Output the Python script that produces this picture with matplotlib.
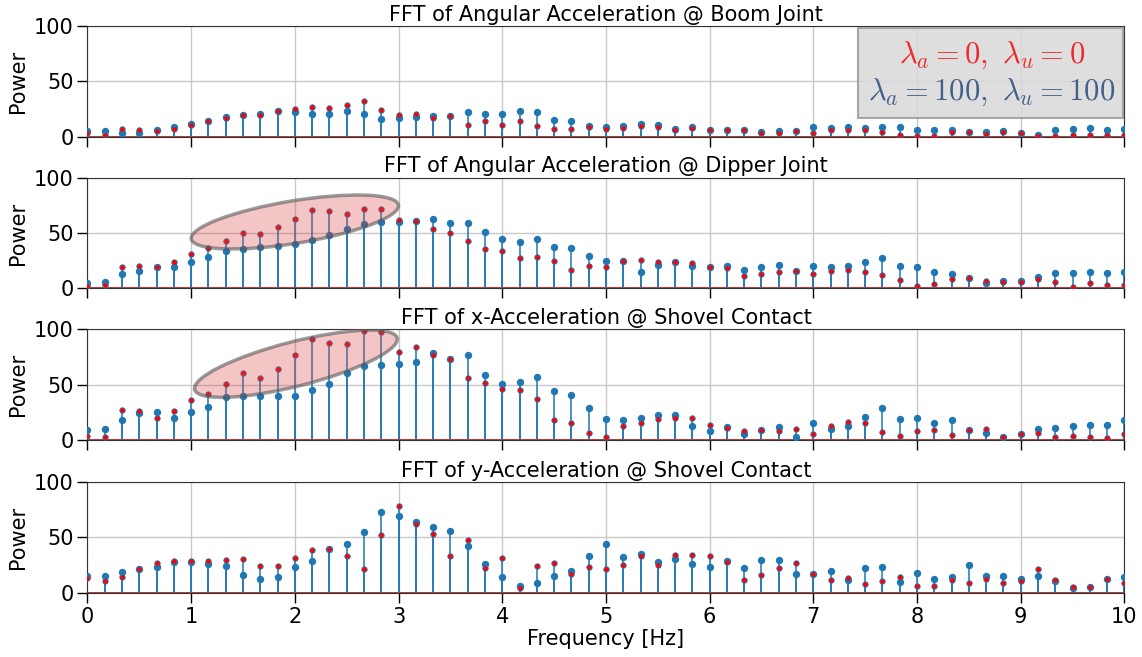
import numpy as np
import matplotlib
matplotlib.use("Agg")
import matplotlib.pyplot as plt
from matplotlib.patches import Ellipse, Rectangle
from matplotlib.transforms import ScaledTranslation

plt.rcParams['mathtext.fontset'] = 'cm'
plt.rcParams['font.family'] = 'DejaVu Sans'

# frequency bins (1/6 Hz spacing)
freq = np.linspace(0, 10, 61)

titles = ['FFT of Angular Acceleration @ Boom Joint',
          'FFT of Angular Acceleration @ Dipper Joint',
          'FFT of x-Acceleration @ Shovel Contact',
          'FFT of y-Acceleration @ Shovel Contact']

# lambda_a = 100, lambda_u = 100 (blue)
boom_blue = [5, 5, 3.5, 3.5, 6, 8.5, 11.5, 14, 18, 20, 21, 23, 22.5, 21, 21, 23, 21, 16, 17, 17.7, 19,
             19, 22, 21, 21, 23, 22, 15.5, 14.6, 10, 9, 10, 11.5, 10.7, 7, 9, 6, 6.4, 6.4, 4, 5,
             5.5, 9, 8, 9, 8, 9, 9, 6, 6, 6, 4, 4.3, 5, 3, 2, 6.4, 7, 7.6, 6, 6.7]
dipper_blue = [5, 6, 13, 15.5, 19.4, 19, 24, 28, 34, 36, 37, 38.5, 40, 43.6, 48, 54, 58, 60, 60, 61, 62.7,
               59, 59, 51, 45, 41.5, 44.5, 37.6, 36.7, 29, 25, 25, 14.5, 21, 23.6, 20, 19, 20, 17, 19.7, 21,
               16, 20, 19, 20, 24, 27.6, 20, 19, 15, 13, 9.7, 5, 7, 6.7, 10, 13.6, 14, 14.5, 14, 15]
shovx_blue = [9, 10, 17.7, 24, 25, 20, 25, 30, 39, 40, 40, 40, 39.6, 44.8, 50.6, 61, 67, 68, 69, 71, 78.7,
              73, 77, 59, 50.6, 52.7, 57, 44, 41, 29, 18.6, 17.7, 20, 23, 23, 12.8, 8, 11.6, 5.5, 8.8, 12,
              3, 15, 10, 12.5, 21, 29, 19, 20, 15.8, 17.7, 8.8, 6.4, 2.7, 5, 9.8, 11, 13, 13.7, 13.4, 17.7]
shovy_blue = [15.5, 15, 18.5, 21, 23.6, 28, 28, 26, 24, 15.8, 12.7, 14, 23, 29, 39.7, 44.5, 55, 73, 69, 63.6, 59.4,
              56, 42.4, 25.8, 14, 6.4, 8.5, 15.5, 20, 33, 44, 32.7, 35, 27.6, 30.6, 25.8, 23.3, 28.8, 22.7, 29.4, 29.4,
              17.3, 17, 19.4, 11.2, 22, 23.6, 9.7, 17.6, 12.4, 14.5, 24.8, 15.5, 15.5, 12.7, 14.8, 10.3, 4.5, 5.5, 12.4, 14.5]

# lambda_a = 0, lambda_u = 0 (red)
boom_red = [3, 2, 7, 6, 5, 7, 11, 14, 17, 20, 20, 23, 25, 27, 26, 29, 32.6, 24, 20, 20.7, 16.5,
            19, 11, 14, 11, 14, 9.5, 7, 7, 8.5, 7, 8, 9.5, 9, 6.4, 7.6, 6, 6.4, 5.8, 3.7, 3.4,
            5, 3.4, 6, 5.8, 5.8, 4.3, 2, 1, 1, 4.6, 4, 2.4, 4.3, 3, 1, 1, 2, 2, 2, 2]
dipper_red = [2, 3, 19, 20, 19.4, 24, 31, 36.7, 43, 50, 49, 55.5, 63, 71, 70, 67, 71.5, 72, 62, 61, 54,
              50, 43, 36, 34, 27, 28.5, 24.5, 17, 20.6, 19.7, 25, 25.8, 24, 24, 23, 19, 18.5, 11.5, 13, 15,
              16, 12.7, 15.5, 16.7, 15, 11.8, 7.6, 2.4, 3.6, 8.5, 9, 7, 6, 6, 8, 5.5, 1.5, 4.5, 2.7, 3.3]
shovx_red = [3.7, 3, 27, 26, 20, 26, 36, 42, 51, 60.7, 55.8, 64.6, 77, 91, 88, 86.6, 98.5, 98, 80, 84, 76.8,
             73, 56, 51.5, 46, 45, 37, 17.7, 15.5, 6, 3, 12.8, 15.5, 19, 19.5, 20, 13.7, 11, 8.5, 8.8, 8,
             10, 5.8, 12.8, 16, 15.5, 7.6, 3.7, 8, 8.8, 4.3, 8.8, 9.8, 3, 5, 6, 2.4, 4, 3, 2, 5]
shovy_red = [13, 11, 14, 21, 27, 28.5, 28.5, 28.8, 30, 30.3, 24, 24, 31.5, 38.5, 39.7, 33, 21.8, 52.4, 78, 61.8, 52.7,
             33.6, 47.3, 22, 31.8, 4.5, 24, 26.7, 16.7, 23.6, 21.8, 24.8, 33.6, 24.8, 34, 34.5, 33.6, 28, 11.5, 16, 22.7,
             26.7, 17, 11.8, 13.6, 7.9, 11, 14, 6.4, 6.4, 11.8, 9, 12.4, 9, 10.3, 21, 11.2, 5.5, 5.5, 12.7, 9]

blue_sets = [boom_blue, dipper_blue, shovx_blue, shovy_blue]
red_sets = [boom_red, dipper_red, shovx_red, shovy_red]

blue = '#1f77b4'

fig = plt.figure(figsize=(11.42, 6.57), dpi=100)
bottoms = [0.7919, 0.5612, 0.3303, 0.0979]
axes = []
for i in range(4):
    ax = fig.add_axes([0.0766, bottoms[i], 0.908, 0.1682])
    axes.append(ax)

    ml, sl, bl = ax.stem(freq, blue_sets[i], linefmt='-', markerfmt='o', basefmt='-')
    plt.setp(sl, color=blue, lw=1.3, alpha=0.85, zorder=2)
    plt.setp(ml, color=blue, markersize=4.3, zorder=3)
    plt.setp(bl, color='#b53c3c', lw=1.2, zorder=2.5)

    ml, sl, bl = ax.stem(freq, red_sets[i], linefmt='-', markerfmt='o', basefmt='-')
    plt.setp(sl, color=blue, lw=1.3, alpha=0.85, zorder=2)
    plt.setp(ml, markerfacecolor='red', markeredgecolor=blue, markeredgewidth=0.6,
             markersize=3.9, zorder=4)
    plt.setp(bl, color='#b53c3c', lw=1.2, zorder=2.5)

    ax.set_xlim(0, 10)
    ax.set_ylim(0, 100)
    ax.set_xticks(range(11))
    ax.set_yticks([0, 50, 100])
    ax.grid(True, color='#c8c8c8', lw=1.0)
    ax.set_axisbelow(True)
    ax.tick_params(labelsize=15, length=7, width=1, pad=3)
    ax.set_title(titles[i], fontsize=15, pad=4)
    ax.set_ylabel('Power', fontsize=15)
    for s in ax.spines.values():
        s.set_color('#333333')
    if i < 3:
        ax.tick_params(labelbottom=False)

axes[-1].set_xlabel('Frequency [Hz]', fontsize=15, labelpad=2)

# highlight ellipses (size in inches, centred on data point)
for ax, cx, cy, w, h, ang in [(axes[1], 2.0, 60, 2.10, 0.425, 9.3),
                              (axes[2], 2.01, 69, 2.09, 0.445, 14.3)]:
    tr = fig.dpi_scale_trans + ScaledTranslation(cx, cy, ax.transData)
    e = Ellipse((0, 0), w, h, angle=ang, transform=tr,
                facecolor=(0.85, 0.25, 0.25, 0.3), edgecolor=(0.35, 0.35, 0.35, 0.6),
                lw=2.5, zorder=5)
    ax.add_patch(e)

# legend box
ax0 = axes[0]
ax0.add_patch(Rectangle((0.743, 0.172), 0.2556, 0.816, transform=ax0.transAxes,
                        facecolor='#d9d9d9', alpha=0.85, edgecolor='#999999', lw=1.5, zorder=6))
ax0.text(0.872, 0.738, r'$\lambda_a = 0,\ \lambda_u = 0$', transform=ax0.transAxes,
         color='#ee2a2a', fontsize=22, ha='center', va='center', zorder=7)
ax0.text(0.872, 0.406, r'$\lambda_a = 100,\ \lambda_u = 100$', transform=ax0.transAxes,
         color='#43608c', fontsize=22, ha='center', va='center', zorder=7)

fig.savefig('out.png', dpi=100)
